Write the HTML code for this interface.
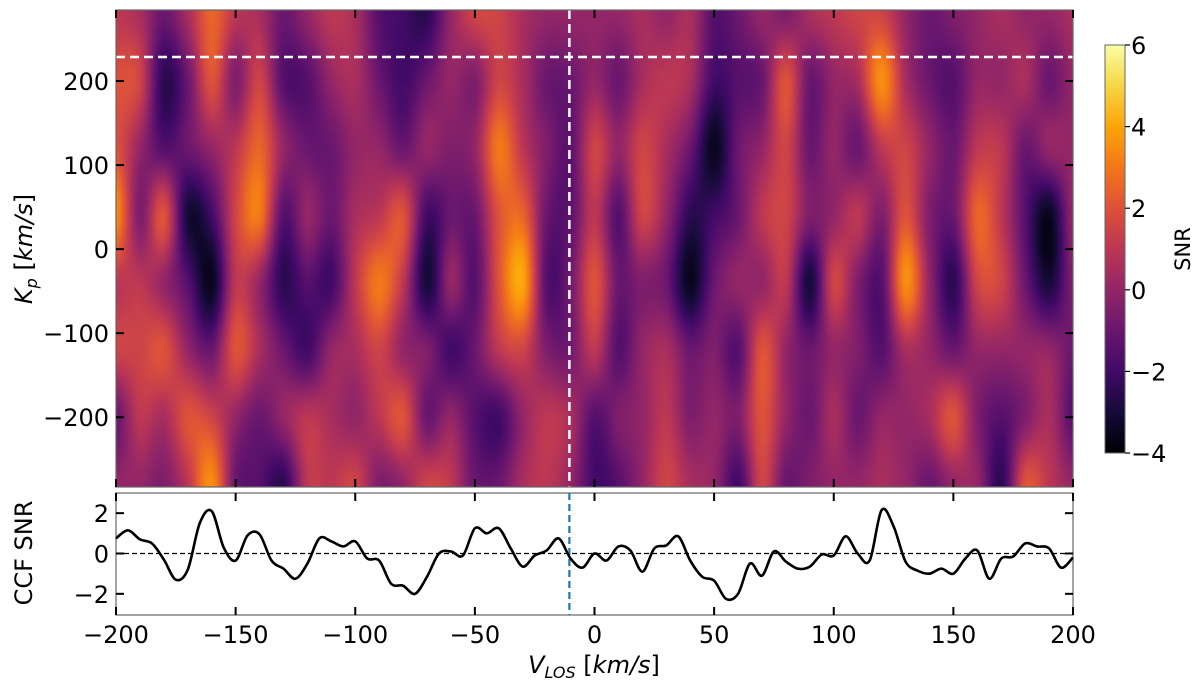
<!DOCTYPE html>
<html><head><meta charset="utf-8"><style>
body{margin:0;background:#fff;width:1200px;height:685px;overflow:hidden;font-family:"DejaVu Sans","Liberation Sans",sans-serif}
#wrap{position:relative;width:1200px;height:685px}
canvas{position:absolute}
svg{position:absolute;left:0;top:0}
</style></head><body>
<div id="wrap">
<canvas id="hm" width="957" height="477" style="left:116px;top:10px"></canvas>
<canvas id="cb" width="20" height="408" style="left:1105px;top:45px"></canvas>
<svg id="svg" width="1200" height="685"></svg>
</div>
<script>
// Heatmap grid: columns at v = -200..200 step 10, rows at Kp values
const vGrid = [-200,-190,-180,-170,-160,-150,-140,-130,-120,-110,-100,-90,-80,-70,-60,-50,-40,-30,-20,-10,0,10,20,30,40,50,60,70,80,90,100,110,120,130,140,150,160,170,180,190,200];
const kpGrid = [280,200,120,40,-40,-120,-200,-280];
const snrRow280 = [1,0.5,-1,0.5,2.5,1,0.5,-1,0,1,0.5,-1.5,-2,-2.5,0,1.5,1.5,0.5,0,0,0,0,0.5,0,0.5,-1.5,-1,0,-0.5,0.5,1,1.5,1.5,0,-1,-0.5,0,0.5,0,0,0.5];
const snrRow200 = [2,1.5,-2.5,-1,2,-0.5,1.5,-1.5,-1.5,0,0.5,-1,-2,-1,0,-0.5,1.5,0.5,-1,-1,0,-1,0.5,1,0.5,-2,-1.5,-1,2,-1,0,0.5,3.5,0.5,-1,-1.5,0,0,0.5,-1,0];
const snrRow120 = [2,0,-1.5,-1,0,1,2.5,0,-1,-1,0,0,-1,0,-0.5,0,3,1,-0.5,-1.3,1.5,0,1.5,0.5,-1,-3.5,-1,0,1.5,-1,0,-1,1,1.5,0,-1,1,1,-1,0,0];
const snrRow40 = [3.5,-0.5,2,-3,-2,1.5,3,-1.5,0,-1,0.5,1,2,-2,-1,-1,2,2.5,-1,-1.3,1,-1.5,1.5,0,-2.5,-2,-1,1,1.5,-0.5,0,1,-0.5,2,-0.5,-1,2.5,1,-1.5,-3.5,0];
const snrRowM40 = [1,1,0,-1.5,-3.5,1,0,-2.5,-1.5,-2,1,3,1,-3,0,-1.5,2,4,-1.5,-0.8,2,-1,-0.5,-1,-3.5,-1,0,0,1,-3,1.5,-0.5,-1.5,3.5,0,-2.5,1.5,1.5,-1,-3,-0.5];
const snrRowM120 = [1.5,1.5,2,0,-1,2,0.5,-1,-2,0,0.5,1.5,0,-0.5,-2,-1,1,1.5,-0.5,-0.8,1,-1.5,0,0.5,-1,-0.5,-1.5,2,0,-1,0,-0.5,-1.5,0.5,0,-1,0,0,0,0,-1];
const snrRowM200 = [-1,1,0.5,2,1.5,0,-1,0,1,0.5,0,1,2,-1,0,-1.5,-2,0,1,0.5,-1.5,-0.5,0,1,-0.5,0,-0.5,2,0,-1,0.5,-1,0,0,0.5,2,-0.5,-1.5,-0.5,0.5,-1.5];
const snrRowM280 = [0,0,-0.5,1,3.5,-1,-1.5,-2.5,1,1,1.5,-0.5,0,1.5,1,-1,-1,0.5,1,0,-2,-1.5,0,1.5,0.5,0,-2,1.5,-1,-0.5,0,0,0.5,0,-1,0,0,-2.5,2,1,0];
const snrRows = [snrRow280,snrRow200,snrRow120,snrRow40,snrRowM40,snrRowM120,snrRowM200,snrRowM280];

// CCF curve
const ccfV = [];
for(let v=-200; v<=200; v+=5) ccfV.push(v);
const ccfSNR = [0.75,1.15,0.7,0.5,-0.3,-1.3,-0.8,1.5,2.1,0.3,-0.35,0.9,0.95,-0.35,-0.75,-1.25,-0.5,0.75,0.6,0.35,0.6,-0.25,-0.35,-1.5,-1.6,-2.0,-1.15,0,0.1,-0.1,1.25,1.0,1.25,0.25,-0.65,-0.1,0.15,0.75,-0.25,-0.7,0,-0.35,0.35,0.15,-0.9,0.25,0.4,0.85,-0.35,-1.15,-1.35,-2.25,-2.0,-0.5,-1.1,0.1,-0.4,-0.75,-0.65,-0.05,-0.1,0.85,0,-0.35,2.15,1.35,-0.4,-0.85,-1.0,-0.75,-1.0,-0.25,0.15,-1.25,-0.25,-0.15,0.5,0.35,0.25,-0.7,-0.2];

const xTicks = [-200,-150,-100,-50,0,50,100,150,200];
const kpTicks = [200,100,0,-100,-200];
const ccfTicks = [2,0,-2];
const cbTicks = [6,4,2,0,-2,-4];
const kpMarker = 228.6, vMarker = -10.5;

const X0=116, X1=1073, VMIN=-200, VMAX=200;
const xs = v => X0 + (v-VMIN)/(VMAX-VMIN)*(X1-X0);
const MT=10, MB=487, KMAX=284.5, KMIN=-283;
const ky = k => MT + (KMAX-k)/(KMAX-KMIN)*(MB-MT);
const BT=493, BB=615, CMAX=3.0, CMIN=-3.05;
const cy = c => BT + (CMAX-c)/(CMAX-CMIN)*(BB-BT);
const CBT=45, CBB=453, SMIN=-4, SMAX=6;
const sy = s => CBT + (SMAX-s)/(SMAX-SMIN)*(CBB-CBT);

const inferno=[[0,0,4],[22,11,57],[66,10,104],[106,23,110],[147,38,103],[188,55,84],[221,81,58],[243,120,25],[252,165,10],[246,215,70],[252,255,164]];
function cmap(s){let t=(s-SMIN)/(SMAX-SMIN);t=Math.max(0,Math.min(1,t))*10;let i=Math.min(9,Math.floor(t)),f=t-i;const a=inferno[i],b=inferno[i+1];return [a[0]+(b[0]-a[0])*f,a[1]+(b[1]-a[1])*f,a[2]+(b[2]-a[2])*f];}
function cr(p0,p1,p2,p3,t){return 0.5*((2*p1)+(-p0+p2)*t+(2*p0-5*p1+4*p2-p3)*t*t+(-p0+3*p1-3*p2+p3)*t*t*t);}
function rowAt(r,fx){const arr=snrRows[r],n=arr.length;const i=Math.floor(fx),t=fx-i;const g=k=>arr[Math.max(0,Math.min(n-1,k))];return cr(g(i-1),g(i),g(i+1),g(i+2),t);}

(function(){const c=document.getElementById('hm'),ctx=c.getContext('2d');const W=c.width,H=c.height;const img=ctx.createImageData(W,H);
const nR=snrRows.length;
for(let px=0;px<W;px++){const v=VMIN+(px+0.5)/W*(VMAX-VMIN);let fx=(v-vGrid[0])/(vGrid[1]-vGrid[0]);
 const col=[];for(let r=0;r<nR;r++)col.push(rowAt(r,fx));
 for(let py=0;py<H;py++){const k=KMAX-(py+0.5)/H*(KMAX-KMIN);let fy=(kpGrid[0]-k)/(kpGrid[0]-kpGrid[1]);const i=Math.floor(fy),t=fy-i;const g=q=>col[Math.max(0,Math.min(nR-1,q))];const s=cr(g(i-1),g(i),g(i+1),g(i+2),t);const rgb=cmap(s);const o=(py*W+px)*4;img.data[o]=rgb[0];img.data[o+1]=rgb[1];img.data[o+2]=rgb[2];img.data[o+3]=255;}}
ctx.putImageData(img,0,0);
const cb=document.getElementById('cb').getContext('2d');for(let y=0;y<408;y++){const rgb=cmap(SMAX-(y+0.5)/408*(SMAX-SMIN));cb.fillStyle=`rgb(${rgb[0]|0},${rgb[1]|0},${rgb[2]|0})`;cb.fillRect(0,y,20,1);}
})();

const svg=document.getElementById('svg');const NS='http://www.w3.org/2000/svg';
function el(tag,attrs,name){const e=document.createElementNS(NS,tag);for(const k in attrs)e.setAttribute(k,attrs[k]);


svg.appendChild(e);return e;}
function txt(x,y,s,name,extra){const e=el('text',Object.assign({x:x,y:y,'font-size':24,fill:'#000','font-family':'DejaVu Sans, Liberation Sans, sans-serif'},extra||{}),name);e.textContent=s;return e;}
const fmt=n=>n<0?'\u2212'+(-n):''+n;

el('line',{x1:X0,x2:X1,y1:ky(kpMarker),y2:ky(kpMarker),stroke:'#fff','stroke-width':2.5,'stroke-dasharray':'9,5'},'kp-marker-line');
el('line',{x1:xs(vMarker),x2:xs(vMarker),y1:MT,y2:MB,stroke:'#fff','stroke-width':2.5,'stroke-dasharray':'9,5'},'vlos-marker-line');
el('rect',{x:X0,y:MT,width:X1-X0,height:MB-MT,fill:'none',stroke:'#666','stroke-width':1.2},'main-frame');
el('rect',{x:X0,y:BT,width:X1-X0,height:BB-BT,fill:'none',stroke:'#666','stroke-width':1.2},'ccf-frame');
el('rect',{x:1105,y:CBT,width:20,height:CBB-CBT,fill:'none',stroke:'#666','stroke-width':1},'colorbar-frame');
xTicks.forEach(v=>{const x=xs(v);
 [[MT,MT+8],[MB-8,MB],[BT,BT+8],[BB-8,BB]].forEach(p=>el('line',{x1:x,x2:x,y1:p[0],y2:p[1],stroke:'#000','stroke-width':2},'x-tick'));
 txt(x,643,fmt(v),'x-tick-label',{'text-anchor':'middle'});});
kpTicks.forEach(k=>{const y=ky(k);el('line',{x1:X0,x2:X0+8,y1:y,y2:y,stroke:'#000','stroke-width':2},'kp-tick');el('line',{x1:X1-8,x2:X1,y1:y,y2:y,stroke:'#000','stroke-width':2},'kp-tick-right');
 txt(109,y+9,fmt(k),'kp-tick-label',{'text-anchor':'end'});});
ccfTicks.forEach(c=>{const y=cy(c);el('line',{x1:X0,x2:X0+8,y1:y,y2:y,stroke:'#000','stroke-width':2},'ccf-tick');el('line',{x1:X1-8,x2:X1,y1:y,y2:y,stroke:'#000','stroke-width':2},'ccf-tick-right');
 txt(109,y+9,fmt(c),'ccf-tick-label',{'text-anchor':'end'});});
cbTicks.forEach(s=>{const y=sy(s);el('line',{x1:1125,x2:1130,y1:y,y2:y,stroke:'#000','stroke-width':1.2},'colorbar-tick');txt(1131,y+9,fmt(s),'colorbar-tick-label');});
el('line',{x1:X0,x2:X1,y1:cy(0),y2:cy(0),stroke:'#000','stroke-width':1.3,'stroke-dasharray':'5,3'},'zero-line');
el('line',{x1:xs(vMarker),x2:xs(vMarker),y1:BT,y2:BB,stroke:'#1f77b4','stroke-width':2.2,'stroke-dasharray':'7,4'},'ccf-vlos-marker');
(function(){const pts=ccfV.map((v,i)=>[xs(v),cy(ccfSNR[i])]);let d='M'+pts[0][0]+','+pts[0][1];
for(let i=0;i<pts.length-1;i++){const p0=pts[Math.max(0,i-1)],p1=pts[i],p2=pts[i+1],p3=pts[Math.min(pts.length-1,i+2)];
d+=` C${p1[0]+(p2[0]-p0[0])/6},${p1[1]+(p2[1]-p0[1])/6} ${p2[0]-(p3[0]-p1[0])/6},${p2[1]-(p3[1]-p1[1])/6} ${p2[0]},${p2[1]}`;}
el('path',{d:d,fill:'none',stroke:'#000','stroke-width':2.6},'ccf-snr-line');})();
const xl=txt(594,673,'','x-axis-title',{'text-anchor':'middle'});xl.innerHTML='<tspan font-style="italic">V</tspan><tspan font-style="italic" font-size="16" dy="5">LOS</tspan><tspan dy="-5"> [</tspan><tspan font-style="italic">km/s</tspan>]';
const yl=txt(0,0,'','kp-axis-title',{'text-anchor':'middle',transform:'translate(32,249) rotate(-90)'});yl.innerHTML='<tspan font-style="italic">K</tspan><tspan font-style="italic" font-size="16" dy="5">p</tspan><tspan dy="-5"> [</tspan><tspan font-style="italic">km/s</tspan>]';
txt(0,0,'CCF SNR','ccf-axis-title',{'text-anchor':'middle',transform:'translate(32,553) rotate(-90)'});
txt(0,0,'SNR','colorbar-title',{'text-anchor':'middle',transform:'translate(1190,249) rotate(-90)','font-size':21});
</script>
</body></html>
